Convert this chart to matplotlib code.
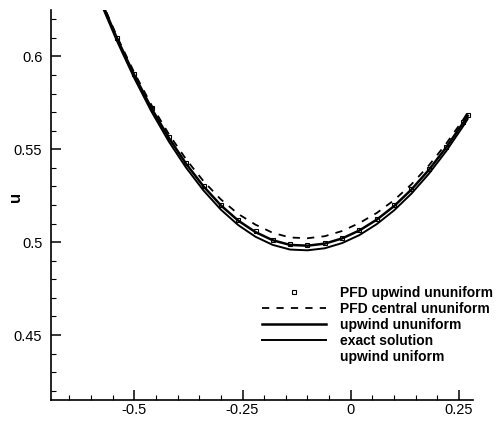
import matplotlib
matplotlib.use("Agg")
import matplotlib.pyplot as plt
from matplotlib.lines import Line2D
from matplotlib.ticker import MultipleLocator, FixedLocator, FixedFormatter

plt.rcParams['font.family'] = ['Liberation Sans', 'DejaVu Sans']

x = [-0.58, -0.54, -0.50, -0.46, -0.42, -0.38, -0.34, -0.30, -0.26, -0.22, -0.18, -0.14,
     -0.10, -0.06, -0.02, 0.02, 0.06, 0.10, 0.14, 0.18, 0.22, 0.26, 0.27]

exact_solution = [0.6302, 0.6083, 0.5883, 0.5702, 0.5541, 0.5400, 0.5278, 0.5175, 0.5092,
                  0.5029, 0.4985, 0.4960, 0.4956, 0.4967, 0.4995, 0.5038, 0.5097, 0.5171,
                  0.5261, 0.5367, 0.5489, 0.5626, 0.5663]
upwind_ununiform = [0.6317, 0.6098, 0.5900, 0.5720, 0.5561, 0.5421, 0.5300, 0.5198, 0.5116,
                    0.5054, 0.5010, 0.4985, 0.4981, 0.4992, 0.5020, 0.5063, 0.5121, 0.5194,
                    0.5283, 0.5388, 0.5509, 0.5644, 0.5681]
pfd_upwind = [0.6320, 0.6101, 0.5904, 0.5724, 0.5565, 0.5425, 0.5304, 0.5202, 0.5120,
              0.5058, 0.5014, 0.4989, 0.4985, 0.4996, 0.5024, 0.5067, 0.5125, 0.5198,
              0.5287, 0.5392, 0.5513, 0.5648, 0.5685]
pfd_central = [0.6322, 0.6108, 0.5913, 0.5737, 0.5581, 0.5445, 0.5328, 0.5230, 0.5152,
               0.5094, 0.5050, 0.5025, 0.5021, 0.5032, 0.5060, 0.5103, 0.5157, 0.5226,
               0.5311, 0.5412, 0.5529, 0.5661, 0.5698]

xticks = [-0.5, -0.25, 0, 0.25]
xtick_labels = ['-0.5', '-0.25', '0', '0.25']
yticks = [0.45, 0.5, 0.55, 0.6]
ytick_labels = ['0.45', '0.5', '0.55', '0.6']
legend_labels = ['PFD upwind ununiform', 'PFD central ununiform', 'upwind ununiform',
                 'exact solution', 'upwind uniform']

fig = plt.figure(figsize=(5.01, 4.23), dpi=100)
ax = fig.add_axes([50.7 / 501, 1 - 400 / 423, (473 - 50.7) / 501, (400 - 10) / 423])

ax.plot(x, exact_solution, color='black', lw=1.4)
ax.plot(x, upwind_ununiform, color='black', lw=1.8)
ax.plot(x, pfd_upwind, linestyle='none', marker='s', markersize=2.5, markerfacecolor='none',
        markeredgecolor='black', markeredgewidth=0.8)
ax.plot(x, pfd_central, color='black', lw=1.3, dashes=(4, 4))

ax.set_xlim(-0.693, 0.2823)
ax.set_ylim(0.415, 0.625)

for s in ['top', 'right']:
    ax.spines[s].set_visible(False)
for s in ['left', 'bottom']:
    ax.spines[s].set_linewidth(1.2)

ax.xaxis.set_major_locator(FixedLocator(xticks))
ax.xaxis.set_major_formatter(FixedFormatter(xtick_labels))
ax.yaxis.set_major_locator(FixedLocator(yticks))
ax.yaxis.set_major_formatter(FixedFormatter(ytick_labels))
ax.xaxis.set_minor_locator(MultipleLocator(0.05))
ax.yaxis.set_minor_locator(MultipleLocator(0.01))
ax.tick_params(which='major', direction='in', length=7, width=1.1, labelsize=10.5)
ax.tick_params(which='minor', direction='in', length=3.3, width=0.8)
ax.tick_params(axis='x', which='major', pad=2)
ax.tick_params(axis='y', which='major', pad=6)

fig.text(0.03, 1 - 197 / 423, 'u', rotation=90, fontsize=12, fontweight='bold',
         ha='center', va='center')

handles = [
    Line2D([], [], linestyle='none', marker='s', markersize=2.5, markerfacecolor='none',
           markeredgecolor='black', markeredgewidth=0.8),
    Line2D([], [], color='black', lw=1.3, dashes=(4, 4)),
    Line2D([], [], color='black', lw=1.8),
    Line2D([], [], color='black', lw=1.4),
    Line2D([], [], linestyle='none'),
]
leg = fig.legend(handles, legend_labels, loc='upper left',
                 bbox_to_anchor=(262 / 501, 1 - 286 / 423), frameon=False,
                 prop={'weight': 'bold', 'size': 10}, handlelength=4.6,
                 handletextpad=1.0, labelspacing=0.15, borderpad=0, borderaxespad=0)

fig.savefig('out.png', dpi=100)
